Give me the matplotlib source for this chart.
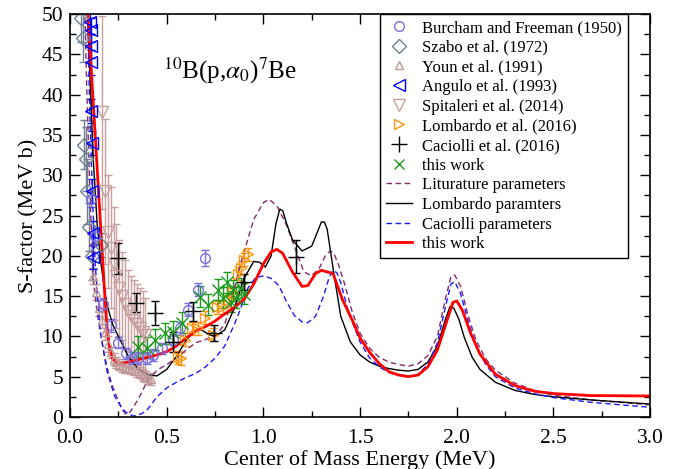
import matplotlib
matplotlib.use("Agg")
import matplotlib.pyplot as plt
from matplotlib.lines import Line2D
from matplotlib.ticker import MultipleLocator

plt.rcParams['font.family'] = ['Liberation Serif', 'DejaVu Serif']
plt.rcParams['mathtext.fontset'] = 'stix'

# ---------------- data ----------------
burcham_E = [0.11, 0.13, 0.17, 0.21, 0.25, 0.29, 0.32, 0.35, 0.40, 0.43, 0.475, 0.53, 0.57, 0.61, 0.66, 0.70]
burcham_S = [27.0, 22.5, 14.0, 11.4, 9.2, 7.9, 7.3, 7.3, 7.3, 7.7, 8.5, 9.6, 11.0, 13.3, 15.8, 19.7]
burcham_err = [1.0, 1.0, 0.8, 0.8, 0.7, 0.7, 0.7, 0.7, 0.7, 0.7, 0.7, 0.7, 0.8, 0.8, 0.8, 1.0]

szabo_E = [0.055, 0.065, 0.07, 0.08, 0.09, 0.10, 0.115, 0.16]
szabo_S = [49.5, 47.0, 33.8, 32.0, 28.0, 23.6, 20.0, 21.3]
szabo_err = [3, 3, 3, 4, 4, 3, 3, 1.5]

youn_E = [0.12, 0.135, 0.15, 0.165, 0.18, 0.195, 0.21, 0.225, 0.24, 0.255, 0.27, 0.285,
          0.30, 0.315, 0.33, 0.345, 0.36, 0.375, 0.39, 0.405, 0.42]
youn_S = [17.5, 15.5, 13.5, 12.0, 10.5, 9.0, 8.0, 7.2, 6.8, 6.5, 6.3, 6.2,
          6.1, 6.0, 5.9, 5.7, 5.5, 5.2, 5.0, 4.8, 4.7]
youn_err = [1.0] * 6 + [0.7] * 15

angulo_E = [0.105, 0.107, 0.109, 0.11, 0.11, 0.112, 0.115, 0.118, 0.12]
angulo_S = [49.0, 48.0, 46.0, 44.0, 38.0, 34.0, 28.0, 22.8, 19.9]
angulo_err = [1.5, 1.5, 1.5, 1.5, 1.5, 1.5, 1.5, 1.5, 1.5]

spit_E = [0.165, 0.18, 0.197, 0.21, 0.225, 0.24, 0.255, 0.27, 0.285, 0.30, 0.315, 0.33, 0.345, 0.36, 0.375, 0.39]
spit_S = [37.8, 28.0, 23.0, 21.0, 19.0, 17.5, 16.0, 15.0, 14.0, 13.2, 12.5, 12.0, 11.5, 11.0, 10.6, 10.2]
spit_err = [12, 9, 7, 7.5, 7, 6.5, 6, 5.5, 5.5, 5, 5, 5, 5, 5, 5, 4.5]

lomb_E = [0.56, 0.575, 0.595, 0.63, 0.66, 0.70, 0.74, 0.76, 0.79, 0.82, 0.845, 0.87, 0.885, 0.90, 0.92]
lomb_S = [7.4, 7.3, 9.6, 11.0, 11.0, 12.3, 10.2, 13.6, 13.6, 14.5, 15.5, 17.8, 18.5, 19.5, 20.2]
lomb_err = [0.8] * 15

cac_E = [0.25, 0.34, 0.44, 0.535, 0.637, 0.745, 0.90, 1.17]
cac_S = [19.7, 14.2, 12.9, 9.3, 13.1, 10.4, 16.8, 19.9]
cac_err = [1.9, 1.2, 1.5, 1.2, 1.2, 1.0, 1.0, 2.0]

tw_E = [0.35, 0.40, 0.44, 0.49, 0.535, 0.58, 0.67, 0.715, 0.765, 0.79, 0.81, 0.83, 0.845, 0.86, 0.885, 0.90]
tw_S = [8.7, 8.6, 9.6, 10.4, 10.6, 11.7, 14.9, 13.9, 15.8, 14.8, 16.7, 14.3, 15.7, 14.8, 16.0, 15.3]
tw_err = [1.3] * 16

lit_E = [0.075, 0.085, 0.10, 0.12, 0.14, 0.155, 0.175, 0.20, 0.22, 0.245, 0.27, 0.29, 0.31, 0.34, 0.37,
         0.40, 0.45, 0.50, 0.55, 0.60, 0.65, 0.70, 0.75, 0.80, 0.83, 0.86, 0.90, 0.95, 1.00, 1.03,
         1.07, 1.12, 1.17, 1.21, 1.25, 1.29, 1.32, 1.345, 1.365, 1.39, 1.42, 1.46, 1.50, 1.55, 1.60, 1.65,
         1.70, 1.75, 1.80, 1.85, 1.90, 1.94, 1.97, 1.99, 2.02, 2.06, 2.10, 2.15, 2.20, 2.30, 2.40,
         2.50, 2.70, 3.00]
lit_S = [52.0, 42.0, 30.0, 17.0, 13.0, 10.8, 8.0, 5.3, 3.8, 2.3, 0.9, 0.3, 0.6, 1.7, 3.0,
         4.5, 5.8, 6.5, 7.3, 8.3, 9.2, 9.6, 10.0, 11.5, 14.0, 17.0, 20.5, 24.5, 26.6, 27.0,
         26.2, 23.8, 20.5, 18.0, 17.5, 18.5, 20.0, 20.6, 20.3, 18.8, 16.5, 13.0, 10.4, 8.5, 7.4, 6.8,
         6.5, 6.3, 6.6, 7.6, 10.0, 14.5, 17.4, 17.6, 16.2, 12.5, 9.5, 7.2, 5.8, 4.2, 3.3,
         2.7, 2.1, 1.5]

lombp_E = [0.088, 0.10, 0.12, 0.14, 0.16, 0.19, 0.22, 0.25, 0.30, 0.35, 0.40, 0.45, 0.50, 0.55, 0.60,
           0.65, 0.68, 0.72, 0.75, 0.80, 0.85, 0.90, 0.95, 0.98, 1.01, 1.04, 1.065, 1.085, 1.10, 1.12,
           1.15, 1.20, 1.25, 1.28, 1.30, 1.315, 1.33, 1.36, 1.40, 1.45, 1.50, 1.55, 1.60, 1.65, 1.70,
           1.75, 1.80, 1.85, 1.90, 1.94, 1.965, 1.985, 2.01, 2.04, 2.08, 2.12, 2.20, 2.30, 2.40, 2.50,
           2.70, 3.00]
lombp_S = [52.0, 44.0, 32.0, 24.0, 19.0, 14.0, 11.5, 10.0, 7.6, 6.0, 5.2, 5.1, 5.9, 7.5, 9.5,
           10.8, 10.8, 10.2, 10.0, 10.8, 13.5, 17.2, 19.3, 19.2, 18.6, 20.0, 24.0, 25.8, 25.6, 24.0,
           22.0, 20.6, 21.2, 23.0, 24.2, 24.2, 23.3, 18.5, 12.5, 9.3, 7.7, 6.8, 6.3, 6.0, 5.8,
           5.7, 5.9, 6.8, 8.8, 12.0, 13.7, 13.5, 12.2, 9.8, 7.4, 5.9, 4.3, 3.3, 2.8, 2.5,
           2.1, 1.6]

cacp_E = [0.09, 0.10, 0.113, 0.13, 0.155, 0.19, 0.23, 0.27, 0.30, 0.33, 0.37, 0.40, 0.45, 0.50, 0.55,
          0.60, 0.65, 0.70, 0.75, 0.80, 0.85, 0.88, 0.92, 0.96, 1.00, 1.04, 1.08, 1.12, 1.16, 1.20,
          1.23, 1.27, 1.31, 1.34, 1.36, 1.38, 1.40, 1.44, 1.50, 1.55, 1.60, 1.65, 1.70, 1.75, 1.80, 1.85,
          1.90, 1.94, 1.97, 1.99, 2.02, 2.06, 2.10, 2.15, 2.20, 2.30, 2.40, 2.50, 2.70, 3.00]
cacp_S = [52.0, 40.0, 29.4, 19.0, 10.8, 5.8, 2.6, 1.0, 0.4, 0.1, 0.4, 0.9, 2.5, 3.6, 4.3,
          4.9, 5.4, 6.2, 7.3, 8.8, 11.5, 13.3, 16.0, 17.3, 17.5, 17.2, 16.3, 14.3, 12.6, 11.8,
          11.7, 12.5, 14.9, 17.3, 18.2, 17.9, 16.7, 13.0, 9.3, 7.3, 6.2, 5.5, 5.2, 5.0, 5.3, 6.5,
          9.2, 13.5, 16.5, 16.8, 15.3, 11.8, 8.8, 6.5, 5.0, 3.6, 2.9, 2.4, 1.8, 1.2]

twc_E = [0.09, 0.12, 0.14, 0.16, 0.18, 0.19, 0.20, 0.21, 0.22, 0.24, 0.26, 0.30, 0.35, 0.40, 0.45,
         0.50, 0.55, 0.60, 0.65, 0.70, 0.75, 0.80, 0.85, 0.90, 0.95, 1.00, 1.04, 1.07, 1.10, 1.15,
         1.20, 1.23, 1.27, 1.30, 1.33, 1.36, 1.41, 1.46, 1.50, 1.55, 1.60, 1.65, 1.70, 1.75, 1.80,
         1.85, 1.90, 1.95, 1.98, 2.00, 2.03, 2.07, 2.12, 2.20, 2.30, 2.40, 2.50, 2.70, 3.00]
twc_S = [51.0, 39.0, 31.0, 23.0, 15.0, 11.5, 9.3, 8.0, 7.2, 6.7, 6.6, 6.8, 7.1, 7.4, 7.7,
         8.1, 8.8, 9.8, 10.6, 11.2, 11.9, 12.8, 13.6, 14.6, 16.5, 19.0, 20.5, 20.8, 20.3, 18.0,
         16.2, 16.3, 17.8, 18.2, 18.0, 17.8, 14.5, 12.0, 9.8, 8.0, 6.6, 5.6, 5.2, 5.0, 5.2,
         6.2, 8.3, 12.0, 14.2, 14.4, 13.2, 10.5, 7.8, 5.3, 3.9, 3.2, 2.9, 2.65, 2.6]

# ---------------- figure ----------------
fig = plt.figure(figsize=(6.8, 4.69), dpi=100)
ax = fig.add_axes([0.103, 0.111, 0.853, 0.859])

c_bur = '#7b6fe0'
c_sza = '#6f7f90'
c_you = '#c09898'
c_ang = '#0000ff'
c_spi = '#c8a0a0'
c_lom = '#ff9410'
c_cac = '#000000'
c_tw = '#1a9a1a'

eb = dict(linestyle='none', capsize=3, elinewidth=1.0, capthick=1.0, mew=1.0)
ax.errorbar(spit_E, spit_S, yerr=spit_err, fmt='v', ms=9, mfc='none', mec=c_spi, ecolor=c_spi, **eb)
ax.errorbar(youn_E, youn_S, yerr=youn_err, fmt='^', ms=6, mfc='none', mec=c_you, ecolor=c_you, **eb)
ax.errorbar(szabo_E, szabo_S, yerr=szabo_err, fmt='D', ms=7, mfc='none', mec=c_sza, ecolor=c_sza, **eb)
ax.errorbar(angulo_E, angulo_S, yerr=angulo_err, fmt='<', ms=8, mfc='none', mec=c_ang, ecolor=c_ang, **eb)
ax.errorbar(burcham_E, burcham_S, yerr=burcham_err, fmt='o', ms=7, mfc='none', mec=c_bur, ecolor=c_bur, **eb)
ax.errorbar(lomb_E, lomb_S, yerr=lomb_err, fmt='>', ms=7, mfc='none', mec=c_lom, ecolor=c_lom, **eb)
ax.errorbar(tw_E, tw_S, yerr=tw_err, fmt='x', ms=8, color=c_tw, ecolor=c_tw, **eb)
ax.errorbar(cac_E, cac_S, yerr=cac_err, fmt='+', ms=11, color=c_cac, ecolor=c_cac, **eb)

c_lit = '#862a6e'
ax.plot(lit_E, lit_S, color=c_lit, lw=1.0, ls=(0, (4, 2.5)))
ax.plot(lombp_E, lombp_S, color='black', lw=1.0)
ax.plot(cacp_E, cacp_S, color='#1a1aff', lw=1.0, ls=(0, (4, 2.5)))
ax.plot(twc_E, twc_S, color='#ff0000', lw=2.0)

ax.set_xlim(0, 3.0)
ax.set_ylim(0, 50)
ax.xaxis.set_major_locator(MultipleLocator(0.5))
ax.xaxis.set_minor_locator(MultipleLocator(0.25))
ax.yaxis.set_major_locator(MultipleLocator(5))
ax.yaxis.set_minor_locator(MultipleLocator(2.5))
ax.xaxis.set_major_formatter(plt.FuncFormatter(lambda v, p: f"{v:.1f}"))
ax.yaxis.set_major_formatter(plt.FuncFormatter(lambda v, p: f"{v:.0f}"))
ax.tick_params(which='both', direction='in', top=True, right=True, labelsize=15.5)
ax.tick_params(which='major', length=7, width=1.0)
ax.tick_params(which='minor', length=4, width=1.0)
ax.tick_params(axis='x', which='major', pad=9)
ax.tick_params(axis='y', which='major', pad=5)
for s in ax.spines.values():
    s.set_linewidth(1.2)

ax.set_xlabel('Center of Mass Energy (MeV)', fontsize=16, labelpad=1)
ax.set_ylabel('S-factor (MeV b)', fontsize=16, labelpad=2)

ax.text(0.276, 0.86, r'$^{10}$B(p,$\alpha_0$)$^{7}$Be', transform=ax.transAxes,
        fontsize=18, ha='center', va='center')

handles = [
    Line2D([], [], ls='none', marker='o', ms=7, mfc='none', mec=c_bur),
    Line2D([], [], ls='none', marker='D', ms=7, mfc='none', mec=c_sza),
    Line2D([], [], ls='none', marker='^', ms=6, mfc='none', mec=c_you),
    Line2D([], [], ls='none', marker='<', ms=8, mfc='none', mec=c_ang),
    Line2D([], [], ls='none', marker='v', ms=8, mfc='none', mec=c_spi),
    Line2D([], [], ls='none', marker='>', ms=7, mfc='none', mec=c_lom),
    Line2D([], [], ls='none', marker='+', ms=11, color=c_cac),
    Line2D([], [], ls='none', marker='x', ms=7, color=c_tw),
    Line2D([], [], color=c_lit, lw=1.0, ls=(0, (4, 2.5))),
    Line2D([], [], color='black', lw=1.0),
    Line2D([], [], color='#1a1aff', lw=1.0, ls=(0, (4, 2.5))),
    Line2D([], [], color='#ff0000', lw=2.0),
]
labels = ['Burcham and Freeman (1950)', 'Szabo et al. (1972)', 'Youn et al. (1991)',
          'Angulo et al. (1993)', 'Spitaleri et al. (2014)', 'Lombardo et al. (2016)',
          'Caciolli et al. (2016)', 'this work', 'Liturature parameters',
          'Lombardo paramters', 'Caciolli parameters', 'this work']
leg = ax.legend(handles, labels, loc='upper right', bbox_to_anchor=(0.962, 1.0),
                borderaxespad=0, fontsize=12, labelspacing=0.22, handlelength=1.6,
                handletextpad=0.6, borderpad=0.35, fancybox=False, framealpha=1,
                edgecolor='black')
leg.get_frame().set_linewidth(1.0)

fig.savefig('out.png', dpi=100)
